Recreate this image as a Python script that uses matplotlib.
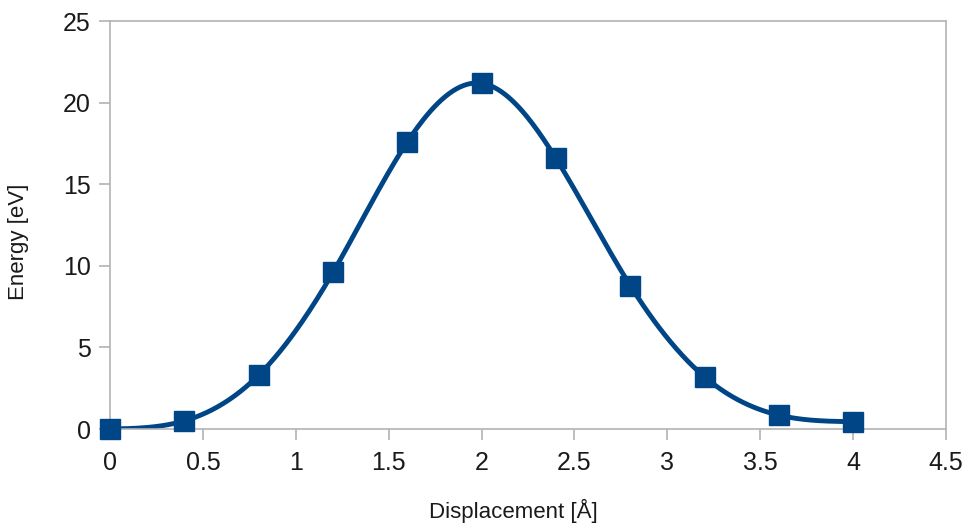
import numpy as np
import matplotlib
matplotlib.use('Agg')
import matplotlib.pyplot as plt

# reaction path energies
displacement = [0.0, 0.4, 0.8, 1.2, 1.6, 2.0, 2.4, 2.8, 3.2, 3.6, 4.0]
energy = [0.0, 0.5, 3.3, 9.6, 17.6, 21.2, 16.6, 8.8, 3.2, 0.85, 0.45]
xticks = [0, 0.5, 1, 1.5, 2, 2.5, 3, 3.5, 4, 4.5]
xticklabels = ['0', '0.5', '1', '1.5', '2', '2.5', '3', '3.5', '4', '4.5']
yticks = [0, 5, 10, 15, 20, 25]


def natural_spline(x, y, n=400):
    x = np.asarray(x, float)
    y = np.asarray(y, float)
    k = len(x)
    h = np.diff(x)
    A = np.zeros((k, k))
    r = np.zeros(k)
    A[0, 0] = A[-1, -1] = 1
    for i in range(1, k - 1):
        A[i, i - 1] = h[i - 1]
        A[i, i] = 2 * (h[i - 1] + h[i])
        A[i, i + 1] = h[i]
        r[i] = 3 * ((y[i + 1] - y[i]) / h[i] - (y[i] - y[i - 1]) / h[i - 1])
    c = np.linalg.solve(A, r)
    xs = np.linspace(x[0], x[-1], n)
    idx = np.clip(np.searchsorted(x, xs) - 1, 0, k - 2)
    dx = xs - x[idx]
    hi = h[idx]
    b = (y[idx + 1] - y[idx]) / hi - hi * (2 * c[idx] + c[idx + 1]) / 3
    d = (c[idx + 1] - c[idx]) / (3 * hi)
    ys = y[idx] + b * dx + c[idx] * dx ** 2 + d * dx ** 3
    return xs, ys


plt.rcParams['font.family'] = ['Liberation Sans', 'DejaVu Sans']

fig = plt.figure(figsize=(9.7, 5.29), dpi=100)
ax = fig.add_axes([0.1134, 0.189, 0.8619, 0.7707])

color = '#004586'
xs, ys = natural_spline(displacement, energy)
ax.plot(xs, ys, color=color, lw=3.5, solid_capstyle='round', zorder=2)
ax.plot(displacement, energy, ls='none', marker='s', ms=14, color=color,
        clip_on=False, zorder=3)

ax.set_xlim(0, 4.5)
ax.set_ylim(0, 25)
ax.set_xticks(xticks)
ax.set_xticklabels(xticklabels)
ax.set_yticks(yticks)

for s in ax.spines.values():
    s.set_color('#b3b3b3')
    s.set_linewidth(1.2)
ax.tick_params(axis='both', direction='out', length=8, width=1.2, color='#b3b3b3',
               labelsize=18, labelcolor='#1a1a1a')
ax.tick_params(axis='y', pad=6)
ax.tick_params(axis='x', pad=8)

ax.set_xlabel('Displacement [Å]', fontsize=16, color='#1a1a1a')
ax.set_ylabel('Energy [eV]', fontsize=16, color='#1a1a1a')
ax.xaxis.set_label_coords(0.482, -0.172)
ax.yaxis.set_label_coords(-0.097, 0.46)

fig.savefig('out.png', dpi=100)
